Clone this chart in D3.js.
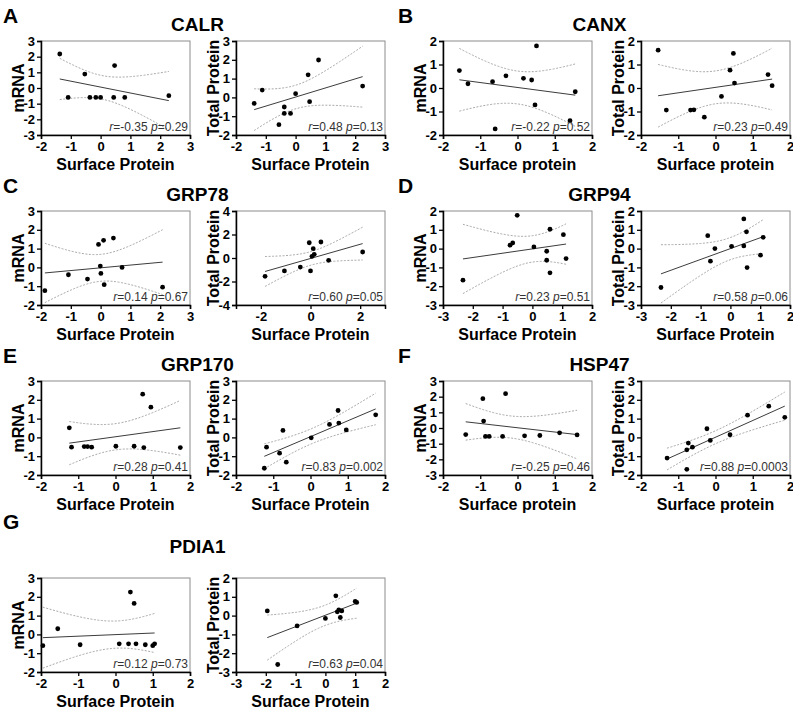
<!DOCTYPE html>
<html>
<head>
<meta charset="utf-8">
<script src="https://cdnjs.cloudflare.com/ajax/libs/d3/7.8.5/d3.min.js"></script>
<style>
body { margin: 0; background: #fff; }
text { font-family: Arial, "Liberation Sans", sans-serif; }
</style>
</head>
<body>
<div class="chart"></div>
<script>
// ---- data (z-scores) ----
var genes = ["CALR", "CANX", "GRP78", "GRP94", "GRP170", "HSP47", "PDIA1"];
var letters = ["A", "B", "C", "D", "E", "F", "G"];

var calrSurfM = [-1.37, -1.09, -0.53, -0.36, -0.16, 0.0, 0.44, 0.47, 0.81, 2.29];
var calrMrna  = [2.17, -0.6, 0.89, -0.6, -0.6, -0.6, -0.6, 1.43, -0.6, -0.49];
var calrSurfT = [-1.39, -1.12, -0.56, -0.38, -0.38, -0.17, 0.0, 0.42, 0.47, 0.77, 2.25];
var calrTotal = [-0.32, 0.39, -1.45, -0.51, -0.85, -0.85, 0.2, 1.2, -0.23, 1.99, 0.6];

var canxSurfM = [-1.56, -1.33, -0.67, -0.60, -0.31, 0.16, 0.38, 0.51, 0.47, 1.41, 1.55];
var canxMrna  = [0.74, 0.18, 0.27, -1.74, 0.52, 0.41, 0.34, 1.79, -0.72, -1.39, -0.16];
var canxSurfT = [-1.54, -1.32, -0.67, -0.58, -0.30, 0.16, 0.39, 0.48, 0.51, 1.41, 1.52];
var canxTotal = [1.61, -0.94, -0.94, -0.93, -1.24, -0.36, 0.76, 1.47, 0.21, 0.57, 0.1];

var grp78SurfM = [-1.87, -1.08, -0.44, -0.07, 0.10, 0.43, -0.01, 0.01, 0.12, 0.72, 2.08];
var grp78Mrna  = [-1.24, -0.39, -0.62, 1.22, 1.44, 1.56, 0.07, -0.32, -0.92, 0.0, -1.05];
var grp78SurfT = [-1.83, -1.05, -0.41, -0.05, 0.42, 0.11, 0.15, 0.06, 0.0, 0.73, 2.1];
var grp78Total = [-1.56, -1.1, -0.77, 1.3, 1.36, 0.79, 0.31, 0.14, -1.1, -0.2, 0.51];

var grp94SurfM = [-2.33, -0.75, -0.66, -0.51, 0.05, 0.48, 0.48, 0.59, 0.59, 1.04, 1.13];
var grp94Mrna  = [-1.68, 0.18, 0.3, 1.77, 0.09, -0.14, -0.62, 1.03, -1.29, 0.74, -0.53];
var grp94SurfT = [-2.33, -0.76, -0.67, -0.52, 0.04, 0.45, 0.45, 0.54, 0.56, 1.01, 1.1];
var grp94Total = [-2.07, 0.69, -0.67, 0.0, 0.12, 1.58, 0.14, 0.89, -1.01, -0.35, 0.6];

var grp170SurfM = [-1.24, -1.18, -0.84, -0.75, -0.64, 0.01, 0.5, 0.73, 0.76, 0.95, 1.74];
var grp170Mrna  = [0.51, -0.52, -0.49, -0.49, -0.52, -0.47, -0.47, 2.3, -0.54, 1.61, -0.54];
var grp170SurfT = [-1.24, -1.18, -0.83, -0.74, -0.65, 0.02, 0.51, 0.74, 0.76, 0.96, 1.75];
var grp170Total = [-1.64, -0.52, -0.84, 0.37, -1.32, -0.02, 0.69, 1.43, 0.76, 0.4, 1.2];

var hsp47SurfM = [-1.39, -0.93, -0.91, -0.86, -0.76, -0.40, -0.32, 0.19, 0.6, 1.13, 1.6];
var hsp47Mrna  = [-0.42, 1.87, 0.44, -0.54, -0.54, -0.54, 2.19, -0.5, -0.48, -0.31, -0.44];
var hsp47SurfT = [-1.3, -0.77, -0.73, -0.62, -0.77, -0.23, -0.14, 0.39, 0.86, 1.43, 1.86];
var hsp47Total = [-1.1, -0.66, -0.3, -0.52, -1.7, 0.46, -0.16, 0.14, 1.18, 1.66, 1.07];

var pdia1SurfM = [-1.95, -1.55, -0.95, 0.1, 0.35, 0.4, 0.5, 0.55, 0.8, 1.0, 1.05];
var pdia1Mrna  = [-0.6, 0.3, -0.55, -0.5, -0.5, 2.25, 1.65, -0.5, -0.55, -0.6, -0.5];
var pdia1SurfT = [-1.95, -1.6, -0.95, 0.0, 0.35, 0.4, 0.45, 0.5, 0.55, 1.0, 1.05];
var pdia1Total = [0.25, -2.6, -0.55, -0.15, 1.05, 0.2, 0.3, -0.1, 0.25, 0.75, 0.7];

var rMrna  = ["-0.35", "-0.22", "0.14", "0.23", "0.28", "-0.25", "0.12"];
var pMrna  = ["0.29", "0.52", "0.67", "0.51", "0.41", "0.46", "0.73"];
var rTotal = ["0.48", "0.23", "0.60", "0.58", "0.83", "0.88", "0.63"];
var pTotal = ["0.13", "0.49", "0.05", "0.06", "0.002", "0.0003", "0.04"];

var xLabels = ["Surface Protein", "Surface protein", "Surface Protein", "Surface Protein",
               "Surface Protein", "Surface protein", "Surface Protein"];

// axis ranges: [mRNA x, mRNA y, total x, total y]
var axisSpec = [
  [[-2, 3], [-3, 3], [-2, 3], [-2, 3]],
  [[-2, 2], [-2, 2], [-2, 2], [-2, 2]],
  [[-2, 3], [-2, 3], [-3, 3], [-4, 4]],
  [[-3, 2], [-3, 2], [-3, 2], [-3, 2]],
  [[-2, 2], [-2, 3], [-2, 2], [-2, 3]],
  [[-2, 2], [-3, 3], [-2, 2], [-2, 3]],
  [[-2, 2], [-2, 3], [-3, 2], [-3, 2]]
];
// tick step per axis, same order
var tickStep = [
  [1, 1, 1, 1], [1, 1, 1, 1], [1, 1, 2, 2], [1, 1, 1, 1],
  [1, 1, 1, 1], [1, 1, 1, 1], [1, 1, 1, 1]
];

var surfM = [calrSurfM, canxSurfM, grp78SurfM, grp94SurfM, grp170SurfM, hsp47SurfM, pdia1SurfM];
var mrna  = [calrMrna, canxMrna, grp78Mrna, grp94Mrna, grp170Mrna, hsp47Mrna, pdia1Mrna];
var surfT = [calrSurfT, canxSurfT, grp78SurfT, grp94SurfT, grp170SurfT, hsp47SurfT, pdia1SurfT];
var total = [calrTotal, canxTotal, grp78Total, grp94Total, grp170Total, hsp47Total, pdia1Total];

// ---- layout ----
var W = 149, H = 94;
var rowTop = [41, 211, 381, 578];
var letterY = [23, 193, 363, 529];
var titleY = [31, 201, 371, 553];
var groupLeft = [0, 395];
var plotLeft = [[41, 236], [443, 641]];

var svg = d3.select(".chart").append("svg")
    .attr("width", 793)
    .attr("height", 716);

function tCrit(df) {
    var t = {7: 2.365, 8: 2.306, 9: 2.262, 10: 2.228, 11: 2.201};
    return t[df] || 2.262;
}

function ticksFor(dom, step) {
    var out = [];
    for (var v = dom[0]; v <= dom[1]; v++) {
        if (v % step === 0) out.push(v);
    }
    return out;
}

var clipId = 0;

function drawPanel(left, top, xDom, yDom, xStep, yStep, xs, ys, yTitle, xTitle, r, p) {
    var x = d3.scaleLinear().domain(xDom).range([left, left + W]);
    var y = d3.scaleLinear().domain(yDom).range([top + H, top]);
    var g = svg.append("g");

    clipId++;
    svg.append("clipPath").attr("id", "c" + clipId)
        .append("rect").attr("x", left).attr("y", top).attr("width", W).attr("height", H);

    g.append("rect")
        .attr("x", left).attr("y", top)
        .attr("width", W).attr("height", H)
        .attr("fill", "none")
        .attr("stroke", "#8c8c8c")
        .attr("stroke-width", 1);

    // linear fit + 95% confidence band
    var n = xs.length, mx = d3.mean(xs), my = d3.mean(ys);
    var sxx = d3.sum(xs, function (d) { return (d - mx) * (d - mx); });
    var sxy = d3.sum(xs.map(function (d, i) { return (d - mx) * (ys[i] - my); }));
    var b = sxy / sxx, a = my - b * mx;
    var sse = d3.sum(xs.map(function (d, i) { var e = ys[i] - a - b * d; return e * e; }));
    var s = Math.sqrt(sse / (n - 2)), t = tCrit(n - 2);
    var x0 = d3.min(xs), x1 = d3.max(xs);
    var grid = d3.range(81).map(function (i) { return x0 + (x1 - x0) * i / 80; });
    function half(v) { return t * s * Math.sqrt(1 / n + (v - mx) * (v - mx) / sxx); }

    var line = d3.line().x(function (d) { return x(d[0]); }).y(function (d) { return y(d[1]); });
    var inner = g.append("g").attr("clip-path", "url(#c" + clipId + ")");

    [1, -1].forEach(function (sign) {
        inner.append("path")
            .attr("d", line(grid.map(function (v) { return [v, a + b * v + sign * half(v)]; })))
            .attr("fill", "none")
            .attr("stroke", "#a8a8a8")
            .attr("stroke-width", 1)
            .attr("stroke-dasharray", "2,1.5");
    });
    inner.append("path")
        .attr("d", line([[x0, a + b * x0], [x1, a + b * x1]]))
        .attr("fill", "none")
        .attr("stroke", "#3c3c3c")
        .attr("stroke-width", 1);

    g.selectAll("circle")
        .data(xs)
        .enter()
        .append("circle")
        .attr("cx", function (d) { return x(d); })
        .attr("cy", function (d, i) { return y(ys[i]); })
        .attr("r", 2.4)
        .attr("fill", "#000");

    var fmt = function (d) { return String(d); };
    var ax = g.append("g")
        .attr("transform", "translate(0," + (top + H) + ")")
        .call(d3.axisBottom(x).tickValues(ticksFor(xDom, xStep)).tickSize(4).tickPadding(3).tickFormat(fmt));
    var ay = g.append("g")
        .attr("transform", "translate(" + left + ",0)")
        .call(d3.axisLeft(y).tickValues(ticksFor(yDom, yStep)).tickSize(4).tickPadding(2).tickFormat(fmt));
    [ax, ay].forEach(function (axis) {
        axis.select(".domain").attr("stroke", "#000").attr("stroke-width", 1.5);
        axis.selectAll(".tick line").attr("stroke", "#000").attr("stroke-width", 1.3);
        axis.selectAll(".tick text")
            .attr("fill", "#000")
            .style("font-size", "13px")
            .style("font-weight", "bold")
            .style("font-family", "Arial, 'Liberation Sans', sans-serif");
    });

    g.append("text")
        .attr("transform", "translate(" + (left - 17) + "," + (top + H / 2) + ") rotate(-90)")
        .attr("text-anchor", "middle")
        .style("font-size", "16px")
        .style("font-weight", "bold")
        .text(yTitle);

    g.append("text")
        .attr("x", left + W / 2)
        .attr("y", top + H + 35)
        .attr("text-anchor", "middle")
        .style("font-size", "16px")
        .style("font-weight", "bold")
        .text(xTitle);

    var note = g.append("text")
        .attr("x", left + W - 2)
        .attr("y", top + H - 4)
        .attr("text-anchor", "end")
        .attr("fill", "#333")
        .style("font-size", "12px");
    note.append("tspan").style("font-style", "italic").text("r");
    note.append("tspan").text("=" + r + " ");
    note.append("tspan").style("font-style", "italic").text("p");
    note.append("tspan").text("=" + p);
}

genes.forEach(function (gene, i) {
    var row = Math.floor(i / 2), col = i % 2;
    var top = rowTop[row];
    var lefts = plotLeft[col];
    var spec = axisSpec[i], st = tickStep[i];

    svg.append("text")
        .attr("x", groupLeft[col] + 3)
        .attr("y", letterY[row])
        .style("font-size", "21px")
        .style("font-weight", "bold")
        .text(letters[i]);

    svg.append("text")
        .attr("x", lefts[0] + W + 7.5)
        .attr("y", titleY[row])
        .attr("text-anchor", "middle")
        .style("font-size", "19px")
        .style("font-weight", "bold")
        .text(gene);

    drawPanel(lefts[0], top, spec[0], spec[1], st[0], st[1], surfM[i], mrna[i], "mRNA", xLabels[i], rMrna[i], pMrna[i]);
    drawPanel(lefts[1], top, spec[2], spec[3], st[2], st[3], surfT[i], total[i], "Total Protein", xLabels[i], rTotal[i], pTotal[i]);
});
</script>
</body>
</html>
